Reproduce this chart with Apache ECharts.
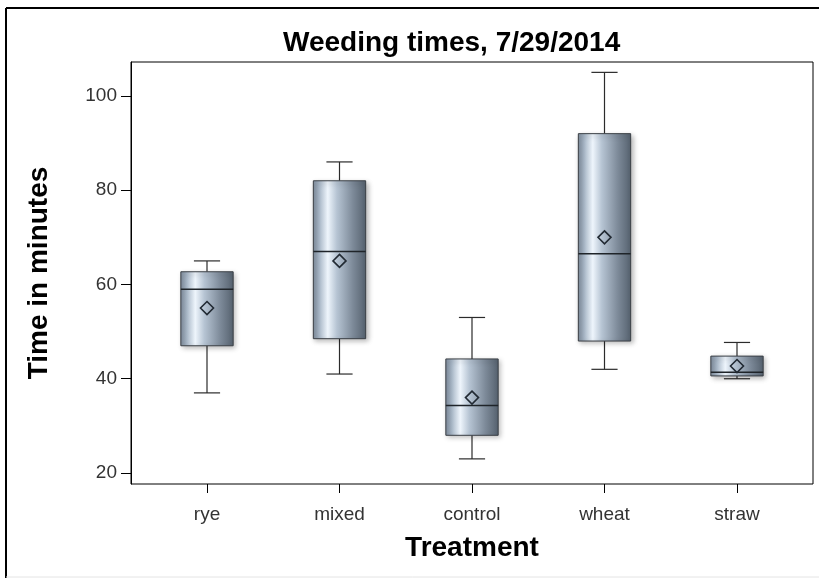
<!DOCTYPE html>
<html>
<head>
<meta charset="utf-8">
<script src="https://cdn.jsdelivr.net/npm/echarts@6/dist/echarts.min.js"></script>
<style>
html,body{margin:0;padding:0;background:#fff;}
#chart{width:819px;height:578px;}
</style>
</head>
<body>
<div id="chart"></div>
<script>
// ---- data ----
var categories = ['rye', 'mixed', 'control', 'wheat', 'straw'];
var mins    = [37, 41, 23, 42, 40];
var q1s     = [47, 48.5, 28, 48, 40.6];
var medians = [59, 67, 34.3, 66.5, 41.4];
var q3s     = [62.7, 82, 44.2, 92, 44.8];
var maxs    = [65, 86, 53, 105, 47.7];
var means   = [55, 65, 36, 70, 42.7];
var yTicks  = [20, 40, 60, 80, 100];
var titleText = 'Weeding times, 7/29/2014';
var xName = 'Treatment';
var yName = 'Time in minutes';

var yMin = 17.67, yMax = 107.2;
var FONT = '"Liberation Sans", Arial, sans-serif';

var boxData = categories.map(function (c, i) {
  return [i, mins[i], q1s[i], medians[i], q3s[i], maxs[i]];
});
var meanData = categories.map(function (c, i) { return [i, means[i]]; });

var chart = echarts.init(document.getElementById('chart'), null, {renderer: 'canvas'});

function renderBox(params, api) {
  var i = api.value(0);
  var pMin = api.coord([i, api.value(1)]);
  var pQ1 = api.coord([i, api.value(2)]);
  var pMed = api.coord([i, api.value(3)]);
  var pQ3 = api.coord([i, api.value(4)]);
  var pMax = api.coord([i, api.value(5)]);
  var bw = api.size([1, 0])[0] * 0.395;
  var cw = bw / 2;
  var x = pMed[0];
  var lineStyle = {stroke: '#2b2b2b', lineWidth: 1.2};
  return {
    type: 'group',
    children: [
      {type: 'line', shape: {x1: x, y1: pMax[1], x2: x, y2: pQ3[1]}, style: lineStyle},
      {type: 'line', shape: {x1: x - cw / 2, y1: pMax[1], x2: x + cw / 2, y2: pMax[1]}, style: lineStyle},
      {type: 'line', shape: {x1: x, y1: pQ1[1], x2: x, y2: pMin[1]}, style: lineStyle},
      {type: 'line', shape: {x1: x - cw / 2, y1: pMin[1], x2: x + cw / 2, y2: pMin[1]}, style: lineStyle},
      {
        type: 'rect',
        shape: {x: x - bw / 2, y: pQ3[1], width: bw, height: pQ1[1] - pQ3[1]},
        style: {
          fill: new echarts.graphic.LinearGradient(0, 0, 1, 0, [
            {offset: 0, color: '#7d8b9b'},
            {offset: 0.12, color: '#a8b7c7'},
            {offset: 0.28, color: '#eef5fc'},
            {offset: 0.45, color: '#b6c4d3'},
            {offset: 0.75, color: '#7d8a99'},
            {offset: 1, color: '#55616e'}
          ]),
          stroke: '#3a3f45',
          lineWidth: 1,
          shadowBlur: 5,
          shadowOffsetX: 2,
          shadowOffsetY: 2,
          shadowColor: 'rgba(0,0,0,0.28)'
        }
      },
      {type: 'line', shape: {x1: x - bw / 2, y1: pMed[1], x2: x + bw / 2, y2: pMed[1]}, style: {stroke: '#1f2429', lineWidth: 1.5}}
    ]
  };
}

var option = {
  animation: false,
  backgroundColor: '#ffffff',
  title: {
    text: titleText,
    left: 278,
    top: 24,
    textStyle: {fontFamily: FONT, fontSize: 28, fontWeight: 'bold', color: '#000'}
  },
  graphic: [
    {type: 'line', shape: {x1: 6, y1: 8, x2: 819, y2: 8}, style: {stroke: '#000', lineWidth: 2}},
    {type: 'line', shape: {x1: 6, y1: 8, x2: 6, y2: 578}, style: {stroke: '#000', lineWidth: 2}},
    {type: 'line', shape: {x1: 6, y1: 577, x2: 819, y2: 577}, style: {stroke: '#e4e4e4', lineWidth: 1}}
  ],
  grid: [
    {left: 131, right: 6, top: 62, bottom: 94, show: true, borderColor: '#000', borderWidth: 1, backgroundColor: 'transparent'},
    {left: 140.75, right: 15.75, top: 62, bottom: 94}
  ],
  xAxis: [
    {type: 'value', gridIndex: 0, show: false, min: 0, max: 1},
    {
      type: 'category', gridIndex: 1, data: categories,
      axisLine: {show: false},
      axisTick: {show: true, alignWithLabel: true, length: 9, lineStyle: {color: '#000'}},
      axisLabel: {margin: 21, fontFamily: FONT, fontSize: 19, color: '#333'},
      name: xName, nameLocation: 'middle', nameGap: 50,
      nameTextStyle: {fontFamily: FONT, fontSize: 28, fontWeight: 'bold', color: '#000'},
      splitLine: {show: false}
    }
  ],
  yAxis: [
    {
      type: 'value', gridIndex: 0, min: yMin, max: yMax,
      axisLine: {show: true, lineStyle: {color: '#000'}},
      axisTick: {show: true, length: 10, customValues: yTicks, lineStyle: {color: '#000'}},
      axisLabel: {margin: 14, customValues: yTicks, fontFamily: FONT, fontSize: 19, color: '#333'},
      splitLine: {show: false},
      name: yName, nameLocation: 'middle', nameGap: 78, nameRotate: 90,
      nameTextStyle: {fontFamily: FONT, fontSize: 28, fontWeight: 'bold', color: '#000'}
    },
    {type: 'value', gridIndex: 1, min: yMin, max: yMax, show: false}
  ],
  series: [
    {
      type: 'custom', xAxisIndex: 1, yAxisIndex: 1,
      renderItem: renderBox,
      data: boxData,
      encode: {x: 0, y: [1, 2, 3, 4, 5]},
      z: 2
    },
    {
      type: 'scatter', xAxisIndex: 1, yAxisIndex: 1,
      data: meanData,
      symbol: 'diamond', symbolSize: 13,
      itemStyle: {color: 'rgba(0,0,0,0)', borderColor: '#222a33', borderWidth: 1.6, opacity: 1},
      z: 3
    }
  ]
};
chart.setOption(option);
</script>
</body>
</html>
